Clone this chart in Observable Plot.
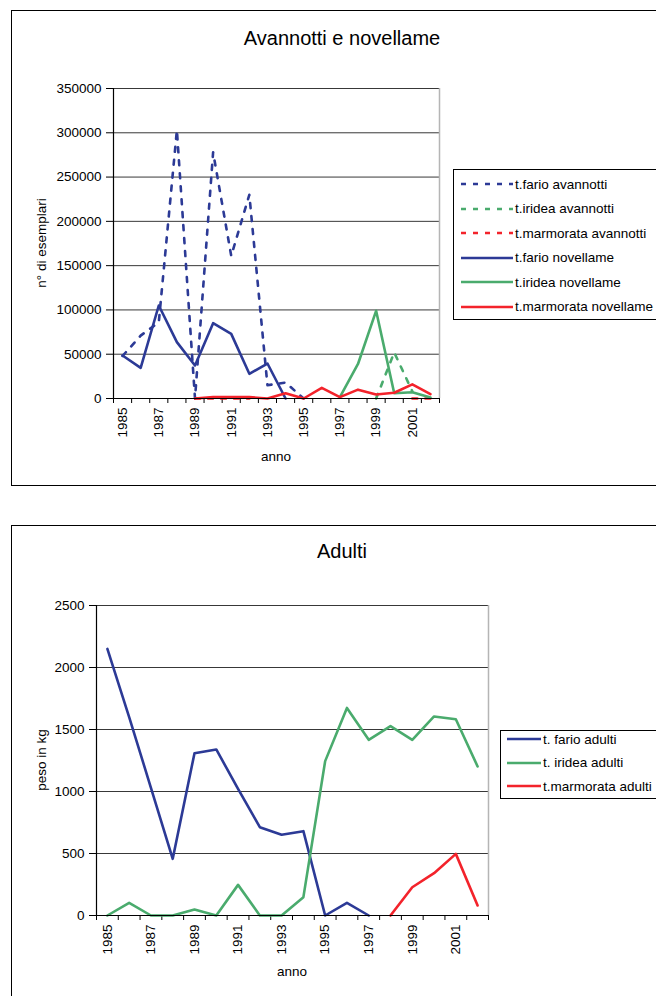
<!DOCTYPE html>
<html><head><meta charset="utf-8">
<script src="https://cdn.jsdelivr.net/npm/d3@7"></script>
<script src="https://cdn.jsdelivr.net/npm/@observablehq/plot@0.6"></script>
<style>
body{margin:0;background:#fff;font-family:"Liberation Sans",Arial,sans-serif;}
#page{position:relative;width:656px;height:996px;overflow:hidden;background:#fff}
.frame{position:absolute;border:1px solid #000;box-sizing:border-box}
.abs{position:absolute;white-space:nowrap;color:#000;line-height:1}
.center{transform:translate(-50%,-50%)}
.rot{transform:translate(-50%,-50%) rotate(-90deg)}
.legend{position:absolute;border:1px solid #000;background:#fff;box-sizing:border-box;font-size:13.5px}
.row{position:absolute;left:0;display:flex;align-items:center;white-space:nowrap;height:20px;transform:translateY(-50%)}
.chart{position:absolute;left:0}
</style></head>
<body><div id="page"></div>
<script>
// ---------- data ----------
const years = [1985,1986,1987,1988,1989,1990,1991,1992,1993,1994,1995,1996,1997,1998,1999,2000,2001,2002];
const labelYears = [1985,1987,1989,1991,1993,1995,1997,1999,2001];

// Avannotti e novellame (n° di esemplari)
const farioAvannotti     = [48000,71000,86000,303000,0,278000,161000,230000,15000,18000,0,null,null,null,null,null,null,null];
const irideaAvannotti    = [null,null,null,null,null,null,null,null,null,null,null,null,null,null,0,52000,8000,null];
const marmorataAvannotti = [null,null,null,null,0,0,0,0,null,null,null,null,null,null,null,null,0,0];
const farioNovellame     = [48500,34600,105000,63600,37300,85000,73000,27900,39500,0,null,null,null,null,null,null,null,null];
const irideaNovellame    = [null,null,null,null,null,null,null,null,null,null,null,null,1500,39000,99000,6000,7000,1000];
const marmorataNovellame = [null,null,null,null,0,1500,1500,1500,0,6000,0,12000,1500,10000,4500,6500,16000,5000];
const yTicks1 = [0,50000,100000,150000,200000,250000,300000,350000];

// Adulti (peso in kg)
const farioAdulti     = [2150,1600,1030,457,1309,1339,1022,712,651,680,0,102,0,null,null,null,null,null];
const irideaAdulti    = [0,102,0,0,48,0,247,0,0,148,1245,1674,1417,1527,1417,1605,1583,1202];
const marmorataAdulti = [null,null,null,null,null,null,null,null,null,null,null,null,null,0,228,341,497,81];
const yTicks2 = [0,500,1000,1500,2000,2500];

const names1 = ["t.fario avannotti","t.iridea avannotti","t.marmorata avannotti","t.fario novellame","t.iridea novellame","t.marmorata novellame"];
const names2 = ["t. fario adulti","t. iridea adulti","t.marmorata adulti"];

// ---------- styles ----------
const BLUE="#2c3a96", GREEN="#4aab6d", RED="#f3232b";
const FONT='"Liberation Sans",Arial,sans-serif';
const DASH="5,8";

const toRows = arr => years.map((y,i)=>({year:y,value:arr[i]}));
const xDomain=[years[0]-0.5, years[years.length-1]+0.5];
const bounds = years.map(y=>y-0.5).concat([years[years.length-1]+0.5]);

function chart(opts){
  const {width,height,ml,mr,mt,mb,yDomain,yTicks,series} = opts;
  const lineMarks = series.map(s=>Plot.line(toRows(s.data),{x:"year",y:"value",stroke:s.color,strokeWidth:2.6,strokeDasharray:s.dash?DASH:null,defined:d=>d.value!=null,curve:"linear"}));
  return Plot.plot({
    width,height,marginLeft:ml,marginRight:mr,marginTop:mt,marginBottom:mb,
    style:{fontFamily:FONT,fontSize:"13.5px",background:"transparent",color:"#000",overflow:"visible"},
    x:{type:"linear",domain:xDomain},
    y:{domain:yDomain},
    marks:[
      Plot.gridY(yTicks,{stroke:"#222",strokeOpacity:0.9,strokeWidth:1}),
      Plot.ruleX([xDomain[1]],{stroke:"#b5b5b5",strokeWidth:1.5}),
      Plot.axisY({ticks:yTicks,tickSize:7,tickPadding:5,tickFormat:d=>String(d),label:null,stroke:"#000"}),
      Plot.axisX({ticks:bounds,tickSize:5,tickFormat:()=>"",label:null}),
      Plot.axisX({ticks:labelYears,tickSize:0,tickPadding:9,tickRotate:-90,tickFormat:d=>String(d),label:null}),
      ...lineMarks,
      Plot.ruleX([xDomain[0]],{stroke:"#000",strokeWidth:1.2}),
      Plot.ruleY([yDomain[0]],{stroke:"#000",strokeWidth:1.2})
    ]
  });
}

const page=document.getElementById("page");
function addDiv(cls,html,style){const d=document.createElement("div");d.className=cls;d.innerHTML=html;Object.assign(d.style,style);page.appendChild(d);return d;}

// frames
addDiv("frame","",{left:"11px",top:"10px",width:"660px",height:"476px"});
addDiv("frame","",{left:"11px",top:"525px",width:"660px",height:"480px"});

// chart 1
const c1 = chart({width:450,height:480,ml:113,mr:11,mt:88,mb:82,yDomain:[0,350000],yTicks:yTicks1,
  series:[
    {data:marmorataAvannotti,color:RED,dash:true},
    {data:irideaAvannotti,color:GREEN,dash:true},
    {data:farioAvannotti,color:BLUE,dash:true},
    {data:farioNovellame,color:BLUE},
    {data:irideaNovellame,color:GREEN},
    {data:marmorataNovellame,color:RED}
  ]});
c1.classList.add("chart"); c1.style.top="0px"; page.appendChild(c1);

// chart 2
const c2 = chart({width:500,height:470,ml:96,mr:12,mt:85,mb:75,yDomain:[0,2500],yTicks:yTicks2,
  series:[
    {data:farioAdulti,color:BLUE},
    {data:irideaAdulti,color:GREEN},
    {data:marmorataAdulti,color:RED}
  ]});
c2.classList.add("chart"); c2.style.top="520px"; page.appendChild(c2);

// titles and axis labels
addDiv("abs center","Avannotti e novellame",{left:"342px",top:"38px",fontSize:"20px"});
addDiv("abs center","Adulti",{left:"342px",top:"551px",fontSize:"20px"});
addDiv("abs rot","n° di esemplari",{left:"42px",top:"243px",fontSize:"13.5px"});
addDiv("abs rot","peso in kg",{left:"42px",top:"760px",fontSize:"13.5px"});
addDiv("abs center","anno",{left:"276px",top:"457px",fontSize:"13.5px"});
addDiv("abs center","anno",{left:"292px",top:"972px",fontSize:"13.5px"});

// legends
function sample(color,dash,w){return `<svg width="${w}" height="6" style="display:block;margin-right:1px"><line x1="1" x2="${w-1}" y1="3" y2="3" stroke="${color}" stroke-width="2.6" ${dash?'stroke-dasharray="5,7"':''}/></svg>`;}
const leg1 = addDiv("legend","",{left:"453px",top:"169px",width:"215px",height:"151px"});
const l1 = [[BLUE,true],[GREEN,true],[RED,true],[BLUE,false],[GREEN,false],[RED,false]];
l1.forEach((s,i)=>{const r=document.createElement("div");r.className="row";r.style.top=(14+i*24.5)+"px";r.style.left="6px";r.innerHTML=sample(s[0],s[1],54)+`<span>${names1[i]}</span>`;leg1.appendChild(r);});
const leg2 = addDiv("legend","",{left:"500px",top:"730px",width:"170px",height:"69px"});
const l2=[BLUE,GREEN,RED];
l2.forEach((c,i)=>{const r=document.createElement("div");r.className="row";r.style.top=(8+i*23.5)+"px";r.style.left="5px";r.innerHTML=sample(c,false,36)+`<span>${names2[i]}</span>`;leg2.appendChild(r);});
</script></body></html>
